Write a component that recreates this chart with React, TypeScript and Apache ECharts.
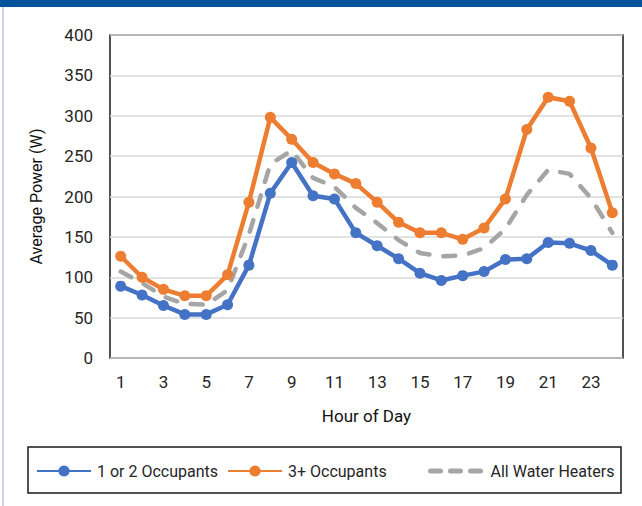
import React, { useEffect, useRef } from "react";
import * as echarts from "echarts";

const hours = ["1","2","3","4","5","6","7","8","9","10","11","12","13","14","15","16","17","18","19","20","21","22","23","24"];
const seriesNames = ["1 or 2 Occupants", "3+ Occupants", "All Water Heaters"];
const occ12 = [89, 78, 65, 54, 54, 66, 115, 204, 242, 201, 197, 155, 139, 123, 105, 96, 102, 107, 122, 123, 143, 142, 133, 115];
const occ3 = [126, 100, 85, 77, 77, 103, 193, 298, 271, 242, 228, 216, 193, 168, 155, 155, 147, 161, 197, 283, 323, 318, 260, 180];
const allWH = [107, 93, 76, 67, 66, 84, 153, 240, 257, 223, 212, 186, 167, 146, 130, 126, 127, 136, 160, 202, 233, 228, 198, 155];

const FONT = "Roboto, 'Liberation Sans', sans-serif";
const TXT = "#262626";

export default function App() {
  const ref = useRef<HTMLDivElement>(null);
  useEffect(() => {
    if (!ref.current) return;
    const chart = echarts.init(ref.current, undefined, { renderer: "svg" });
    const legendCommon = {
      top: 461,
      padding: 0,
      itemWidth: 54,
      itemHeight: 14,
      itemGap: 6,
      textStyle: { fontFamily: FONT, fontSize: 16, color: TXT, lineHeight: 20, padding: [0, 0, 0, 1] },
    };
    chart.setOption({
      animation: false,
      backgroundColor: "#ffffff",
      textStyle: { fontFamily: FONT },
      grid: {
        left: 110,
        top: 35,
        width: 513,
        height: 323,
        show: true,
        borderColor: "#1a1a1a",
        borderWidth: 1.5,
        backgroundColor: "#ffffff",
        containLabel: false,
      },
      xAxis: {
        type: "category",
        data: hours,
        boundaryGap: true,
        axisLine: { show: false },
        axisTick: { show: false },
        axisLabel: { interval: 1, fontFamily: FONT, fontSize: 17, color: TXT, margin: 15 },
        name: "Hour of Day",
        nameLocation: "middle",
        nameGap: 49,
        nameTextStyle: { fontFamily: FONT, fontSize: 17, color: "#111" },
      },
      yAxis: {
        type: "value",
        min: 0,
        max: 400,
        interval: 50,
        axisLine: { show: false },
        axisTick: { show: false },
        splitLine: { lineStyle: { color: "#d9d9d9", width: 1.5 } },
        axisLabel: { fontFamily: FONT, fontSize: 17, color: TXT, margin: 17 },
        name: "Average Power (W)",
        nameLocation: "middle",
        nameRotate: 90,
        nameGap: 66,
        nameTextStyle: { fontFamily: FONT, fontSize: 16, color: "#111" },
      },
      legend: [
        { ...legendCommon, left: 36, data: [seriesNames[0]] },
        { ...legendCommon, left: 227, data: [seriesNames[1]] },
        {
          ...legendCommon,
          left: 428,
          data: [
            {
              name: seriesNames[2],
              itemStyle: { opacity: 0 },
              lineStyle: { color: "#a5a5a5", width: 5, type: [10, 10], cap: "round" },
            },
          ],
        },
      ],
      graphic: [
        { type: "rect", shape: { x: 0, y: 0, width: 642, height: 7 }, style: { fill: "#05539d" } },
        { type: "line", shape: { x1: 3, y1: 7, x2: 3, y2: 506 }, style: { stroke: "#cdd1ea", lineWidth: 2 } },
        { type: "rect", shape: { x: 28, y: 447, width: 593, height: 46 }, style: { fill: "none", stroke: "#1a1a1a", lineWidth: 1.5 } },
      ],
      series: [
        {
          name: seriesNames[2],
          type: "line",
          data: allWH,
          symbol: "none",
          z: 1,
          lineStyle: { color: "#a5a5a5", width: 4.5, type: [12, 14], cap: "round" },
          itemStyle: { color: "#a5a5a5" },
        },
        {
          name: seriesNames[0],
          type: "line",
          data: occ12,
          symbol: "circle",
          symbolSize: 11,
          z: 3,
          lineStyle: { color: "#4472c4", width: 4.5 },
          itemStyle: { color: "#4472c4" },
        },
        {
          name: seriesNames[1],
          type: "line",
          data: occ3,
          symbol: "circle",
          symbolSize: 11,
          z: 2,
          lineStyle: { color: "#ed7d31", width: 4.5 },
          itemStyle: { color: "#ed7d31" },
        },
      ],
    });
    return () => chart.dispose();
  }, []);
  return <div ref={ref} style={{ position: "fixed", left: 0, top: 0, width: 642, height: 506 }} />;
}
